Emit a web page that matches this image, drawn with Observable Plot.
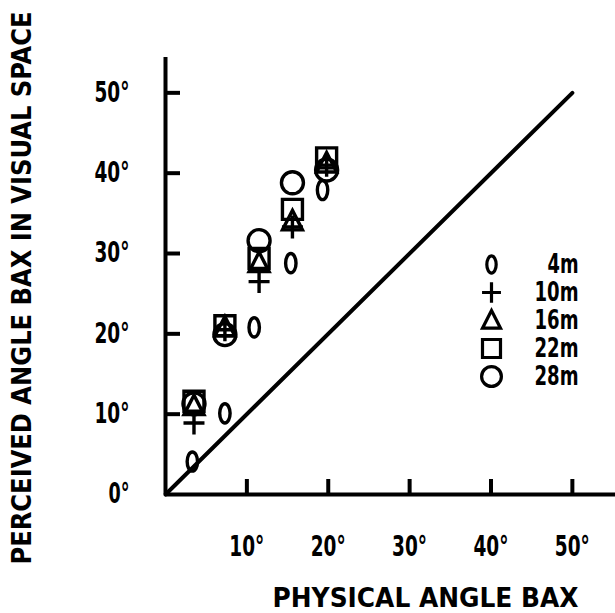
<!DOCTYPE html>
<html>
<head>
<meta charset="utf-8">
<script src="https://cdn.jsdelivr.net/npm/d3@7"></script>
<script src="https://cdn.jsdelivr.net/npm/@observablehq/plot@0.6"></script>
<style>
  html, body { margin: 0; padding: 0; background: #fff; }
  #wrap { position: relative; width: 615px; height: 613px; }
  #wrap > svg { position: absolute; left: 0; top: 0; }
  #legend { pointer-events: none; }
</style>
</head>
<body>
<div id="wrap"></div>
<script>
// ---- data ----
const distances = ["4m", "10m", "16m", "22m", "28m"];
const physical4m = [3.3, 7.3, 10.9, 15.4, 19.3];
const perceived4m = [4.1, 10.1, 20.8, 28.8, 37.9];
const physical = [3.5, 7.3, 11.5, 15.6, 19.8];
const perceived10m = [8.9, 20.5, 26.5, 33.3, 41.0];
const perceived16m = [11.0, 20.8, 28.8, 34.0, 41.2];
const perceived22m = [11.6, 21.0, 29.4, 35.5, 41.9];
const perceived28m = [11.3, 19.9, 31.6, 38.8, 40.4];
const xTicks = [10, 20, 30, 40, 50];
const yTicks = [10, 20, 30, 40, 50];
const yLabels = [0, 10, 20, 30, 40, 50];
const identity = [0, 50];
const xTitle = "PHYSICAL ANGLE BAX";
const yTitle = "PERCEIVED ANGLE BAX IN VISUAL SPACE";

const points = [
  ...physical4m.map((x, i) => ({distance: "4m", x, y: perceived4m[i]})),
  ...physical.map((x, i) => ({distance: "10m", x, y: perceived10m[i]})),
  ...physical.map((x, i) => ({distance: "16m", x, y: perceived16m[i]})),
  ...physical.map((x, i) => ({distance: "22m", x, y: perceived22m[i]})),
  ...physical.map((x, i) => ({distance: "28m", x, y: perceived28m[i]}))
];
const diagonal = identity.map(v => ({x: v, y: v}));

// ---- custom symbols ----
const unit = s => Math.sqrt(s / Math.PI) / 10;
const zeroSym = {draw(c, s) {
  const f = unit(s), rx = 5.2 * f, ry = 9.6 * f, q = 0.5523;
  c.moveTo(0, -ry);
  c.bezierCurveTo(q * rx, -ry, rx, -q * ry, rx, 0);
  c.bezierCurveTo(rx, q * ry, q * rx, ry, 0, ry);
  c.bezierCurveTo(-q * rx, ry, -rx, q * ry, -rx, 0);
  c.bezierCurveTo(-rx, -q * ry, -q * rx, -ry, 0, -ry);
  c.closePath();
}};
const plusSym = {draw(c, s) {
  const f = unit(s), a = 10.5 * f, b = 11.5 * f;
  c.moveTo(-a, 0); c.lineTo(a, 0);
  c.moveTo(0, -b); c.lineTo(0, b);
}};
const triSym = {draw(c, s) {
  const f = unit(s);
  c.moveTo(0, -11 * f); c.lineTo(10 * f, 8.5 * f); c.lineTo(-10 * f, 8.5 * f); c.closePath();
}};
const squareSym = {draw(c, s) {
  const h = 10 * unit(s);
  c.rect(-h, -h, 2 * h, 2 * h);
}};
const circleSym = {draw(c, s) {
  const R = 11 * unit(s);
  c.moveTo(R, 0); c.arc(0, 0, R, 0, 2 * Math.PI);
}};
const symbolRange = [zeroSym, plusSym, triSym, squareSym, circleSym];

const font = "'Liberation Sans Narrow', 'DejaVu Sans Condensed', 'Arial Narrow', sans-serif";

const chart = Plot.plot({
  width: 615,
  height: 613,
  marginLeft: 165,
  marginRight: 0,
  marginTop: 57,
  marginBottom: 119,
  style: {fontFamily: font, fontSize: "28px", fontWeight: "bold", color: "#000", background: "#fff"},
  x: {domain: [0, 55.3]},
  y: {domain: [0, 54.4]},
  symbol: {domain: distances, range: symbolRange},
  marks: [
    Plot.ruleY([0], {stroke: "#000", strokeWidth: 4}),
    Plot.ruleX([0], {stroke: "#000", strokeWidth: 4}),
    Plot.axisX({ticks: xTicks, tickSize: -15, strokeWidth: 4, tickFormat: () => "", label: null}),
    Plot.axisY({ticks: yTicks, tickSize: -15, strokeWidth: 4, tickFormat: () => "", label: null}),
    Plot.axisX({ticks: xTicks, tickSize: 0, tickPadding: 42, tickFormat: d => d + "°", label: null, fontSize: 28}),
    Plot.axisY({ticks: yLabels, tickSize: 0, tickPadding: 36, tickFormat: d => d + "°", label: null, fontSize: 28}),
    Plot.line(diagonal, {x: "x", y: "y", stroke: "#000", strokeWidth: 4}),
    Plot.dot(points, {x: "x", y: "y", symbol: "distance", r: 10, fill: "none", stroke: "#000", strokeWidth: 3.4}),
    Plot.text([xTitle], {frameAnchor: "bottom", dx: 35, dy: 104, lineAnchor: "middle", fontSize: 27}),
    Plot.text([yTitle], {frameAnchor: "left", dx: -143, dy: 12, rotate: -90, lineAnchor: "middle", textAnchor: "middle", fontSize: 27})
  ]
});

const legend = Plot.plot({
  width: 615,
  height: 613,
  marginLeft: 491,
  marginRight: 37,
  marginTop: 0,
  marginBottom: 0,
  style: {fontFamily: font, fontSize: "27px", fontWeight: "bold", color: "#000", background: "transparent"},
  y: {type: "point", domain: distances, range: [262, 377], padding: 0, axis: null},
  symbol: {domain: distances, range: symbolRange},
  marks: [
    Plot.dot(distances, {y: d => d, symbol: d => d, frameAnchor: "left", r: 9, fill: "none", stroke: "#000", strokeWidth: 3.2}),
    Plot.text(distances, {y: d => d, text: d => d, frameAnchor: "right", textAnchor: "end", lineAnchor: "middle", fontSize: 27})
  ]
});
legend.id = "legend";

document.getElementById("wrap").append(chart, legend);

// squeeze texts to the reference's narrow lettering
function squeeze(svg, fn) {
  svg.querySelectorAll("text").forEach(t => {
    const len = fn(t.textContent);
    if (len) { t.setAttribute("textLength", len); t.setAttribute("lengthAdjust", "spacingAndGlyphs"); }
  });
}
squeeze(chart, s => s === xTitle ? 306 : s === yTitle ? 553 : /°$/.test(s) ? (s.length === 2 ? 21 : 35) : 0);
squeeze(legend, s => s.length === 2 ? 31 : 44);
</script>
</body>
</html>
